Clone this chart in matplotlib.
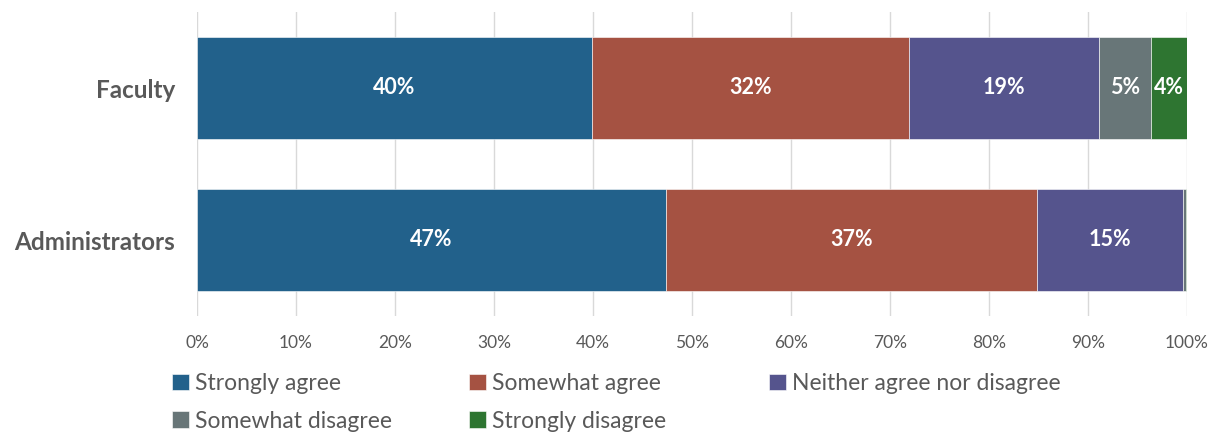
import matplotlib
matplotlib.use("Agg")
import matplotlib.pyplot as plt
import numpy as np

groups = ["Faculty", "Administrators"]
responses = ["Strongly agree", "Somewhat agree", "Neither agree nor disagree",
             "Somewhat disagree", "Strongly disagree"]
faculty = [39.9, 32.0, 19.2, 5.3, 3.6]
administrators = [47.4, 37.4, 14.8, 0.3, 0.1]
colors = ["#22618B", "#A55242", "#55548D", "#687678", "#2E7531"]
ticks = np.arange(0, 101, 10)

plt.rcParams['font.family'] = ['Lato', 'DejaVu Sans']
text_col = "#595959"

fig = plt.figure(figsize=(12.2, 4.32), dpi=100)
ax = fig.add_axes([197 / 1220, 1 - 316 / 432, 990 / 1220, 304 / 432])

vals = np.array([faculty, administrators])
ypos = np.arange(len(groups))
left = np.zeros(len(groups))
handles = []
for i, resp in enumerate(responses):
    bars = ax.barh(ypos, vals[:, i], left=left, height=0.67, color=colors[i],
                   edgecolor="white", linewidth=0.4, label=resp, zorder=3)
    handles.append(bars)
    for j, b in enumerate(bars):
        v = vals[j, i]
        if v >= 2:
            ax.text(left[j] + v / 2, ypos[j], f"{v:.0f}%", ha="center", va="center",
                    color="white", fontsize=15.5, fontweight="bold", zorder=4)
    left += vals[:, i]

ax.set_xlim(0, 100)
ax.set_ylim(1.5, -0.5)
ax.set_xticks(ticks)
ax.set_xticklabels([f"{t}%" for t in ticks])
ax.set_yticks(ypos)
ax.set_yticklabels(groups, fontsize=17.5, fontweight="bold", color=text_col)
ax.tick_params(axis="x", length=0, labelsize=12.5, labelcolor=text_col, pad=14)
ax.tick_params(axis="y", length=0, pad=16)
ax.grid(axis="x", color="#D9D9D9", linewidth=1, zorder=0)
for s in ax.spines.values():
    s.set_visible(False)

# legend laid out in three columns like the original
cols = [[0, 3], [1, 4], [2]]
col_x = [172, 469, 769]
for cx, idx in zip(col_x, cols):
    leg = fig.legend([handles[k] for k in idx], [responses[k] for k in idx],
                     loc="upper left", bbox_to_anchor=(cx / 1220, 1 - 373 / 432),
                     frameon=False, fontsize=16.5, handlelength=0.72, handleheight=0.72,
                     handletextpad=0.3, labelspacing=0.72, borderaxespad=0, borderpad=0)
    for t in leg.get_texts():
        t.set_color(text_col)

fig.savefig("out.png", dpi=100)
